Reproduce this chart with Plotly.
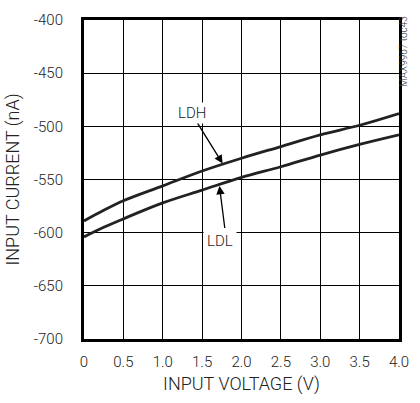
import plotly.graph_objects as go

# datos
voltaje = [0, 0.25, 0.5, 1.0, 1.5, 2.0, 2.5, 3.0, 3.5, 4.0]
corriente_ldh = [-589, -579, -570, -556, -542, -530, -519, -508, -499, -488]
corriente_ldl = [-604, -595, -587, -572, -560, -548, -538, -527, -517, -508]

x_ticks = [0, 0.5, 1.0, 1.5, 2.0, 2.5, 3.0, 3.5, 4.0]
x_labels = ["0", "0.5", "1.0", "1.5", "2.0", "2.5", "3.0", "3.5", "4.0"]
y_ticks = [-700, -650, -600, -550, -500, -450, -400]
y_labels = ["-700", "-650", "-600", "-550", "-500", "-450", "-400"]

fuente = "Roboto, Liberation Sans, sans-serif"

fig = go.Figure()

fig.add_trace(go.Scatter(x=voltaje, y=corriente_ldh, mode="lines", name="LDH",
                         line=dict(color="#222222", width=2.8, shape="spline")))
fig.add_trace(go.Scatter(x=voltaje, y=corriente_ldl, mode="lines", name="LDL",
                         line=dict(color="#222222", width=2.8, shape="spline")))

# etiquetas con flecha
fig.add_annotation(x=1.76, y=-535, ax=1.4, ay=-492, xref="x", yref="y", axref="x", ayref="y",
                   text="", showarrow=True, arrowhead=2, arrowsize=1.3, arrowwidth=1.3, arrowcolor="black")
fig.add_annotation(x=1.37, y=-487, text="LDH", showarrow=False,
                   font=dict(family=fuente, size=15, color="#222222", weight=300), bgcolor="white")
fig.add_annotation(x=1.72, y=-556, ax=1.79, ay=-597, xref="x", yref="y", axref="x", ayref="y",
                   text="", showarrow=True, arrowhead=2, arrowsize=1.3, arrowwidth=1.3, arrowcolor="black")
fig.add_annotation(x=1.73, y=-608, text="LDL", showarrow=False,
                   font=dict(family=fuente, size=15, color="#222222", weight=300), bgcolor="white",
                   borderpad=3)

fig.add_annotation(x=1.0, y=0.9, xref="paper", yref="paper", xanchor="center", yanchor="middle",
                   xshift=5, text="MAX9967 toc43", textangle=-90, showarrow=False,
                   font=dict(family=fuente, size=10, color="#333333", weight=300))

fig.update_layout(
    width=420, height=403,
    margin=dict(l=79, r=11, t=14, b=61),
    paper_bgcolor="white", plot_bgcolor="white",
    showlegend=False,
    font=dict(family=fuente, size=15, color="#222222", weight=300),
    xaxis=dict(range=[0, 4.0], tickvals=x_ticks, ticktext=x_labels,
               showgrid=True, gridcolor="black", gridwidth=1,
               showline=True, linecolor="black", linewidth=3, mirror=True,
               ticks="outside", ticklen=7, tickcolor="white",
               title=dict(text="INPUT VOLTAGE (V)", standoff=8), zeroline=False),
    yaxis=dict(range=[-700, -400], tickvals=y_ticks, ticktext=y_labels,
               showgrid=True, gridcolor="black", gridwidth=1,
               showline=True, linecolor="black", linewidth=3, mirror=True,
               ticks="outside", ticklen=15, tickcolor="white",
               title=dict(text="INPUT CURRENT (nA)", standoff=10), zeroline=False),
)

fig.write_html("out.html", config={"displayModeBar": False},
               post_script="document.body.style.margin='0';document.body.style.overflow='hidden';")
